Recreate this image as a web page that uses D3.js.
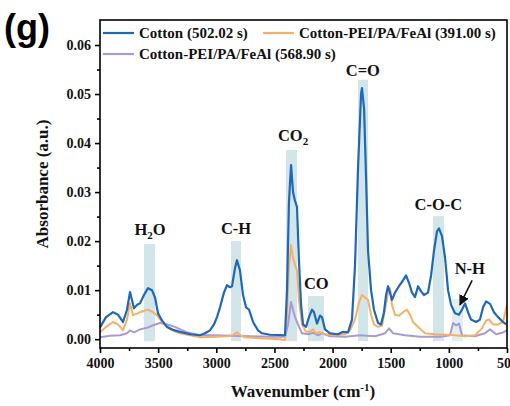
<!DOCTYPE html>
<html>
<head>
<meta charset="utf-8">
<script src="https://cdn.jsdelivr.net/npm/d3@7"></script>
<style>
  body { margin: 0; background: #fff; }
  text { font-family: "Liberation Serif", "Times New Roman", serif; font-weight: bold; }
</style>
</head>
<body>
<svg id="chart" width="510" height="406"></svg>
<script>
// spectra: [wavenumber, absorbance]
var cotton = [[4000,0.0024],[3948,0.0045],[3888,0.0055],[3845,0.0050],[3802,0.0035],[3768,0.0060],[3742,0.0096],[3708,0.0063],[3682,0.0070],[3656,0.0073],[3622,0.0090],[3587,0.0104],[3553,0.0100],[3527,0.0085],[3501,0.0053],[3467,0.0038],[3424,0.0025],[3372,0.0019],[3312,0.0015],[3226,0.0010],[3140,0.0008],[3097,0.0012],[3054,0.0018],[3020,0.0030],[2994,0.0045],[2968,0.0065],[2934,0.0095],[2908,0.0110],[2882,0.0106],[2865,0.0108],[2839,0.0145],[2822,0.0161],[2796,0.0140],[2770,0.0090],[2744,0.0065],[2718,0.0060],[2684,0.0035],[2641,0.0018],[2607,0.0012],[2538,0.0009],[2409,0.0008],[2392,0.0100],[2375,0.0280],[2357,0.0355],[2340,0.0300],[2323,0.0282],[2306,0.0270],[2289,0.0160],[2271,0.0070],[2254,0.0030],[2228,0.0025],[2203,0.0045],[2177,0.0060],[2160,0.0055],[2134,0.0032],[2108,0.0048],[2091,0.0045],[2065,0.0020],[2022,0.0012],[1953,0.0010],[1910,0.0015],[1867,0.0014],[1833,0.0040],[1807,0.0150],[1781,0.0350],[1755,0.0500],[1747,0.0512],[1729,0.0470],[1712,0.0330],[1695,0.0180],[1669,0.0100],[1644,0.0060],[1609,0.0033],[1583,0.0030],[1558,0.0055],[1540,0.0090],[1523,0.0108],[1506,0.0095],[1489,0.0080],[1463,0.0095],[1429,0.0108],[1394,0.0120],[1368,0.0130],[1343,0.0115],[1317,0.0095],[1291,0.0086],[1265,0.0108],[1240,0.0098],[1214,0.0090],[1179,0.0095],[1153,0.0130],[1128,0.0180],[1102,0.0220],[1085,0.0226],[1059,0.0210],[1033,0.0167],[1007,0.0100],[981,0.0070],[947,0.0053],[913,0.0050],[887,0.0060],[861,0.0073],[835,0.0055],[809,0.0040],[766,0.0035],[732,0.0040],[706,0.0065],[680,0.0077],[646,0.0072],[612,0.0055],[577,0.0045],[534,0.0035],[508,0.0030]];

var pei391 = [[4000,0.0014],[3948,0.0025],[3888,0.0035],[3845,0.0030],[3802,0.0018],[3768,0.0040],[3742,0.0073],[3716,0.0049],[3682,0.0052],[3656,0.0055],[3622,0.0058],[3587,0.0060],[3544,0.0055],[3510,0.0049],[3467,0.0035],[3398,0.0020],[3312,0.0012],[3226,0.0008],[3140,0.0004],[3011,0.0005],[2908,0.0006],[2856,0.0008],[2822,0.0014],[2796,0.0008],[2753,0.0004],[2624,0.0002],[2452,0.0000],[2409,-0.0002],[2392,0.0050],[2375,0.0150],[2357,0.0192],[2340,0.0165],[2323,0.0152],[2306,0.0140],[2289,0.0080],[2263,0.0030],[2228,0.0015],[2194,0.0015],[2168,0.0020],[2143,0.0012],[2108,0.0014],[2065,0.0010],[1979,0.0008],[1893,0.0010],[1850,0.0018],[1807,0.0040],[1773,0.0075],[1747,0.0090],[1721,0.0085],[1695,0.0080],[1669,0.0050],[1644,0.0030],[1609,0.0025],[1575,0.0028],[1549,0.0060],[1523,0.0095],[1506,0.0104],[1489,0.0070],[1463,0.0050],[1429,0.0048],[1394,0.0055],[1360,0.0060],[1334,0.0050],[1308,0.0035],[1265,0.0025],[1205,0.0012],[1119,0.0010],[1033,0.0009],[947,0.0008],[861,0.0006],[775,0.0008],[715,0.0022],[680,0.0038],[654,0.0040],[620,0.0030],[577,0.0030],[534,0.0035],[500,0.0070]];

var pei569 = [[4000,0.0004],[3914,0.0007],[3828,0.0008],[3768,0.0012],[3742,0.0018],[3708,0.0014],[3656,0.0020],[3587,0.0024],[3536,0.0029],[3484,0.0033],[3424,0.0030],[3355,0.0025],[3252,0.0014],[3140,0.0008],[3011,0.0008],[2882,0.0007],[2710,0.0006],[2538,0.0005],[2409,0.0005],[2383,0.0030],[2357,0.0076],[2340,0.0060],[2323,0.0045],[2297,0.0030],[2263,0.0012],[2211,0.0010],[2168,0.0013],[2125,0.0008],[2091,0.0012],[2022,0.0006],[1893,0.0005],[1764,0.0008],[1635,0.0006],[1549,0.0012],[1514,0.0022],[1480,0.0012],[1377,0.0008],[1248,0.0005],[1076,0.0005],[990,0.0008],[964,0.0033],[938,0.0028],[913,0.0032],[887,0.0008],[775,0.0006],[689,0.0012],[646,0.0020],[594,0.0010],[542,0.0013],[500,0.0018]];

// assignment bands
var bandNames = ["H2O", "C-H", "CO2", "CO", "C=O", "C-O-C", "N-H"];
var bandFrom  = [3622, 2873, 2400, 2211, 1781, 1136, 973];
var bandTo    = [3527, 2787, 2306, 2074, 1695, 1042, 878];
var bandTop   = [0.0194, 0.0200, 0.0386, 0.0088, 0.0529, 0.0251, 0.0082];

var xTicks = [4000, 3500, 3000, 2500, 2000, 1500, 1000, 500];
var yTicks = [0, 0.01, 0.02, 0.03, 0.04, 0.05, 0.06];

var seriesNames = ["Cotton (502.02 s)", "Cotton-PEI/PA/FeAl (391.00 s)", "Cotton-PEI/PA/FeAl (568.90 s)"];
var seriesColors = ["#1f68b8", "#f5b066", "#a99ad4"];

function drawChart()
{
    var svg = d3.select("#chart");
    var left = 100, right = 507, topY = 20, bottom = 348;

    var x = d3.scaleLinear().domain([4000, 500]).range([left, right]);
    var y = d3.scaleLinear().domain([-0.0018, 0.0651]).range([bottom, topY]);

    // shaded bands behind the spectra
    svg.append("g").selectAll("rect")
        .data(bandNames)
        .enter().append("rect")
        .attr("x", (d, i) => x(bandFrom[i]))
        .attr("width", (d, i) => x(bandTo[i]) - x(bandFrom[i]))
        .attr("y", (d, i) => y(bandTop[i]))
        .attr("height", (d, i) => y(0) - y(bandTop[i]) + 2)
        .attr("fill", (d, i) => i == 6 ? "#e2eef0" : "#d2e5e8");

    var line = d3.line().x(d => x(d[0])).y(d => y(d[1]));

    var series = [cotton, pei391, pei569];
    [2, 1, 0].forEach(function(i) {
        svg.append("path")
            .datum(series[i])
            .attr("d", line)
            .attr("fill", "none")
            .attr("stroke", seriesColors[i])
            .attr("stroke-width", i == 0 ? 2.2 : 2)
            .attr("stroke-linejoin", "round");
    });

    // frame
    svg.append("rect")
        .attr("x", left).attr("y", topY)
        .attr("width", right - left).attr("height", bottom - topY)
        .attr("fill", "none").attr("stroke", "#000").attr("stroke-width", 1.6);

    svg.append("g")
        .attr("transform", "translate(0," + bottom + ")")
        .call(d3.axisBottom(x).tickValues(xTicks).tickSize(5).tickPadding(5).tickFormat(d3.format("d")));
    svg.append("g")
        .attr("transform", "translate(0," + bottom + ")")
        .call(d3.axisBottom(x).tickValues(d3.range(3750, 500, -500)).tickSize(3).tickFormat(""));

    svg.append("g")
        .attr("transform", "translate(" + left + ",0)")
        .call(d3.axisLeft(y).tickValues(yTicks).tickSize(5).tickPadding(4).tickFormat(d3.format(".2f")));
    svg.append("g")
        .attr("transform", "translate(" + left + ",0)")
        .call(d3.axisLeft(y).tickValues([0.005, 0.015, 0.025, 0.035, 0.045, 0.055]).tickSize(3).tickFormat(""));

    svg.selectAll(".domain").remove();
    svg.selectAll(".tick line").attr("stroke", "#000").attr("stroke-width", 1.6);
    svg.selectAll(".tick text")
        .style("font-family", "'Liberation Serif', serif")
        .style("font-weight", "bold")
        .style("font-size", "14px")
        .attr("fill", "#111");

    // band labels
    var labels = svg.append("g").attr("font-size", 16.5).attr("text-anchor", "middle").attr("fill", "#111");
    function label(txt, sub, wn, yy) {
        var t = labels.append("text").attr("x", x(wn)).attr("y", yy);
        t.append("tspan").text(txt[0]);
        if (sub) {
            t.append("tspan").attr("font-size", 11).attr("dy", 4).text(sub);
            t.append("tspan").attr("dy", -4).text(txt[1]);
        }
    }
    label(["H", "O"], "2", 3570, 235);
    label(["C-H"], null, 2830, 234);
    label(["CO", ""], "2", 2340, 141);
    label(["CO"], null, 2140, 289);
    label(["C=O"], null, 1740, 76);
    label(["C-O-C"], null, 1090, 210);
    label(["N-H"], null, 820, 274);

    // arrow for N-H
    svg.append("defs").append("marker")
        .attr("id", "arr").attr("viewBox", "0 0 10 10")
        .attr("refX", 9).attr("refY", 5)
        .attr("markerWidth", 7).attr("markerHeight", 7)
        .attr("orient", "auto")
        .append("path").attr("d", "M0,0 L10,5 L0,10 Z").attr("fill", "#111");
    svg.append("line")
        .attr("x1", x(800)).attr("y1", y(0.0120))
        .attr("x2", x(905)).attr("y2", y(0.0070))
        .attr("stroke", "#111").attr("stroke-width", 1.5)
        .attr("marker-end", "url(#arr)");

    // legend
    var legPos = [[103, 33], [263, 33], [103, 54]];
    seriesNames.forEach(function(name, i) {
        var p = legPos[i];
        svg.append("line")
            .attr("x1", p[0]).attr("x2", p[0] + 31)
            .attr("y1", p[1]).attr("y2", p[1])
            .attr("stroke", seriesColors[i]).attr("stroke-width", 2.2);
        svg.append("text")
            .attr("x", p[0] + 36).attr("y", p[1] + 5)
            .attr("font-size", 15).attr("fill", "#111")
            .text(name);
    });

    // axis titles
    svg.append("text")
        .attr("x", 303).attr("y", 397)
        .attr("text-anchor", "middle").attr("font-size", 17).attr("fill", "#111")
        .html("Wavenumber (cm<tspan font-size='11' dy='-6'>-1</tspan><tspan dy='6'>)</tspan>");
    svg.append("text")
        .attr("transform", "translate(48,184) rotate(-90)")
        .attr("text-anchor", "middle").attr("font-size", 17).attr("fill", "#111")
        .text("Absorbance (a.u.)");

    svg.append("text")
        .attr("x", 4).attr("y", 40)
        .attr("font-size", 36).attr("fill", "#000")
        .style("font-family", "'Liberation Sans', Arial, sans-serif")
        .text("(g)");
}

drawChart();
</script>
</body>
</html>
